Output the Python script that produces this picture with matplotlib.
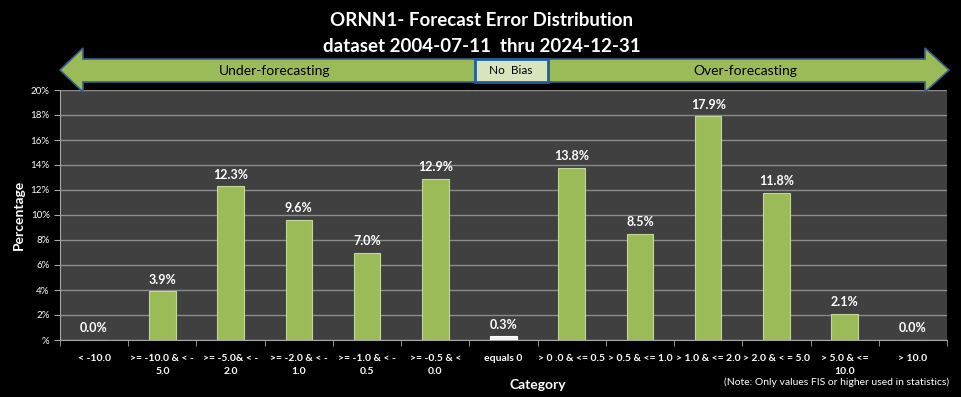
import matplotlib.pyplot as plt
from matplotlib.patches import Polygon, Rectangle
from matplotlib.ticker import FixedLocator, FuncFormatter

plt.rcParams['font.family'] = ['Lato', 'DejaVu Sans']

categories = ["< -10.0", ">= -10.0 & < -\n5.0", ">= -5.0& < -\n2.0", ">= -2.0 & < -\n1.0",
              ">= -1.0 & < -\n0.5", ">= -0.5 & <\n0.0", "equals 0", "> 0 .0 & <= 0.5",
              "> 0.5 & <= 1.0", "> 1.0 & <= 2.0", "> 2.0 & < = 5.0", "> 5.0 & <=\n10.0", "> 10.0"]
values = [0.0, 3.9, 12.3, 9.6, 7.0, 12.9, 0.3, 13.8, 8.5, 17.9, 11.8, 2.1, 0.0]
y_ticks = [0, 2, 4, 6, 8, 10, 12, 14, 16, 18, 20]

W, H = 961, 397
fig = plt.figure(figsize=(W / 100, H / 100), dpi=100, facecolor="black")
ax = fig.add_axes([60 / W, 1 - 340 / H, 887 / W, 250 / H])
ax.set_facecolor("#404040")

x = list(range(len(values)))
colors = ["#F2F2F2" if c == "equals 0" else "#9BBB59" for c in categories]
edges = ["#FFFFFF" if c == "equals 0" else "#C3D69B" for c in categories]
ax.bar(x, values, width=0.39, color=colors, edgecolor=edges, linewidth=0.8, zorder=3)

for xi, v in zip(x, values):
    ax.annotate(f"{v:.1f}%", (xi, v), xytext=(0, 4), textcoords="offset points",
                ha="center", va="bottom", color="white", fontsize=9, fontweight="bold")

ax.set_xlim(-0.5, len(values) - 0.5)
ax.set_ylim(0, 20)
ax.yaxis.set_major_locator(FixedLocator(y_ticks))
ax.yaxis.set_major_formatter(FuncFormatter(lambda v, p: "%" if v == 0 else f"{int(v)}%"))
ax.grid(axis="y", color="#8C8C8C", linewidth=1, zorder=0)
ax.set_xticks(x)
ax.set_xticklabels(categories, fontsize=7.5, fontweight="bold", color="white", linespacing=1.6)
ax.set_xticks([i - 0.5 for i in range(len(values) + 1)], minor=True)
ax.tick_params(axis="x", which="major", length=0, pad=10)
ax.tick_params(axis="x", which="minor", length=4, color="#A6A6A6")
ax.tick_params(axis="y", labelsize=7, colors="white", length=4, color="#A6A6A6")
for side in ["top", "right"]:
    ax.spines[side].set_visible(False)
ax.spines["left"].set_color("#A6A6A6")
ax.spines["bottom"].set_color("#A6A6A6")

ax.set_ylabel("Percentage", color="white", fontsize=10, fontweight="bold", labelpad=4)
fig.text(510 / W, 1 - 385 / H, "Category", color="white", fontsize=10,
         fontweight="bold", ha="left", va="center")
fig.text(949 / W, 1 - 382 / H, "(Note: Only values FIS or higher used in statistics)",
         color="white", fontsize=7.5, ha="right", va="center")

fig.text(482 / W, 1 - 20 / H, "ORNN1- Forecast Error Distribution", color="white",
         fontsize=13.5, fontweight="bold", ha="center", va="center")
fig.text(482 / W, 1 - 46 / H, "dataset 2004-07-11  thru 2024-12-31", color="white",
         fontsize=13.5, fontweight="bold", ha="center", va="center")

# double headed arrow in pixel coordinates
def px(xp, yp):
    return (xp / W, 1 - yp / H)

arrow_pts = [px(60, 70), px(83, 48), px(83, 59), px(925, 59), px(925, 48), px(949, 70),
             px(925, 92), px(925, 82), px(83, 82), px(83, 92)]
fig.patches.append(Polygon(arrow_pts, closed=True, facecolor="#9BBB59", edgecolor="#385D8A",
                           linewidth=1.2, transform=fig.transFigure, figure=fig))
x0, y0 = px(475, 82)
fig.patches.append(Rectangle((x0, y0), 73 / W, 23 / H, facecolor="#D7E4BD", edgecolor="#1F5F9F",
                             linewidth=2, transform=fig.transFigure, figure=fig))
fig.text(511 / W, 1 - 71 / H, "No  Bias", color="black", fontsize=8.5, ha="center", va="center")
fig.text(275 / W, 1 - 71 / H, "Under-forecasting", color="black", fontsize=10, ha="center", va="center")
fig.text(745 / W, 1 - 71 / H, "Over-forecasting", color="black", fontsize=10, ha="center", va="center")

fig.savefig("out.png", dpi=100, facecolor="black")
